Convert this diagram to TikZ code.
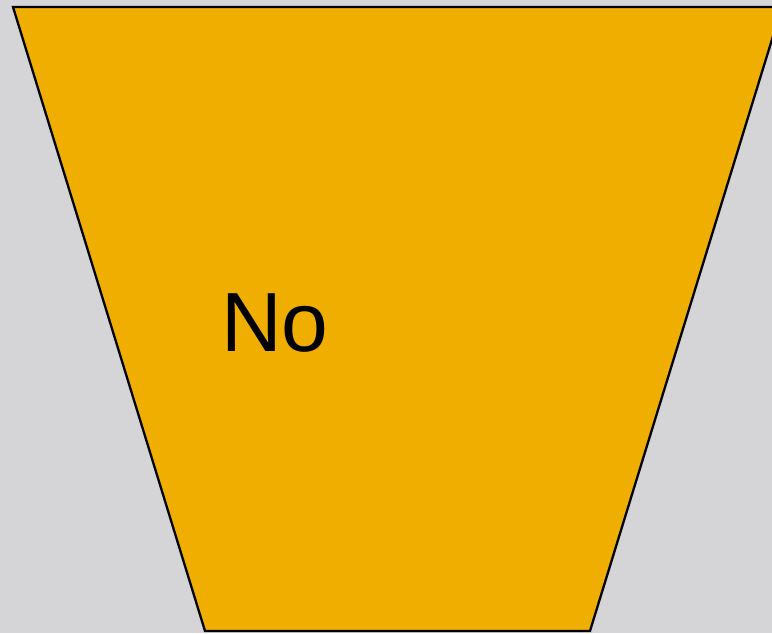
\documentclass[tikz,border=0pt]{standalone}
\usepackage{fontspec}
\setmainfont{Liberation Sans}

\definecolor{panelgray}{HTML}{D5D5D8}
\definecolor{funnelorange}{HTML}{F0AE00}

\begin{document}
\begin{tikzpicture}[
  x=1pt, y=1pt,
  funnel/.style={draw=black, line width=2.3pt, fill=funnelorange, line join=miter},
  answer/.style={inner sep=0pt, font=\fontsize{84}{84}\selectfont, text=black}
]

\useasboundingbox (0,0) rectangle (772,633);
\fill[panelgray] (0,0) rectangle (772,633);
\clip (0,0) rectangle (772,633);

% trapezoid, its top right corner runs off the page
\draw[funnel] (13,626) -- (782,626) -- (590,2) -- (205,2) -- cycle;

\node[answer, anchor=base west] (no) at (221,281) {No};

\end{tikzpicture}
\end{document}
